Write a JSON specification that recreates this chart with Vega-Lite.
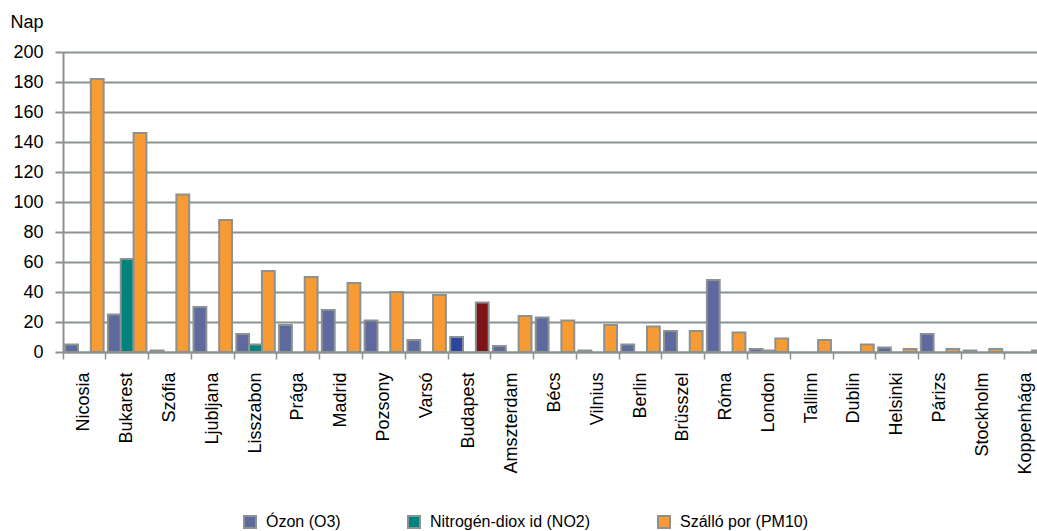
{
  "$schema": "https://vega.github.io/schema/vega-lite/v6.json",
  "autosize": {"type": "none"},
  "padding": {"left": 63, "top": 52, "right": 0, "bottom": 179},
  "width": 974,
  "height": 300,
  "background": "#ffffff",
  "config": {
    "view": {"stroke": null},
    "font": "Liberation Sans",
    "axis": {"labelFont": "Liberation Sans", "titleFont": "Liberation Sans"},
    "legend": {"labelFont": "Liberation Sans"}
  },
  "data": {
    "values": [
      {"city": "Nicosia", "series": "Ózon (O3)", "value": 5},
      {"city": "Nicosia", "series": "Szálló por (PM10)", "value": 182},
      {"city": "Bukarest", "series": "Ózon (O3)", "value": 25},
      {"city": "Bukarest", "series": "Nitrogén-diox id (NO2)", "value": 62},
      {"city": "Bukarest", "series": "Szálló por (PM10)", "value": 146},
      {"city": "Szófia", "series": "Ózon (O3)", "value": 1},
      {"city": "Szófia", "series": "Szálló por (PM10)", "value": 105},
      {"city": "Ljubljana", "series": "Ózon (O3)", "value": 30},
      {"city": "Ljubljana", "series": "Szálló por (PM10)", "value": 88},
      {"city": "Lisszabon", "series": "Ózon (O3)", "value": 12},
      {"city": "Lisszabon", "series": "Nitrogén-diox id (NO2)", "value": 5},
      {"city": "Lisszabon", "series": "Szálló por (PM10)", "value": 54},
      {"city": "Prága", "series": "Ózon (O3)", "value": 18},
      {"city": "Prága", "series": "Szálló por (PM10)", "value": 50},
      {"city": "Madrid", "series": "Ózon (O3)", "value": 28},
      {"city": "Madrid", "series": "Szálló por (PM10)", "value": 46},
      {"city": "Pozsony", "series": "Ózon (O3)", "value": 21},
      {"city": "Pozsony", "series": "Szálló por (PM10)", "value": 40},
      {"city": "Varsó", "series": "Ózon (O3)", "value": 8},
      {"city": "Varsó", "series": "Szálló por (PM10)", "value": 38},
      {"city": "Budapest", "series": "Ózon (O3)", "value": 10},
      {"city": "Budapest", "series": "Szálló por (PM10)", "value": 33},
      {"city": "Amszterdam", "series": "Ózon (O3)", "value": 4},
      {"city": "Amszterdam", "series": "Szálló por (PM10)", "value": 24},
      {"city": "Bécs", "series": "Ózon (O3)", "value": 23},
      {"city": "Bécs", "series": "Szálló por (PM10)", "value": 21},
      {"city": "Vilnius", "series": "Ózon (O3)", "value": 1},
      {"city": "Vilnius", "series": "Szálló por (PM10)", "value": 18},
      {"city": "Berlin", "series": "Ózon (O3)", "value": 5},
      {"city": "Berlin", "series": "Szálló por (PM10)", "value": 17},
      {"city": "Brüsszel", "series": "Ózon (O3)", "value": 14},
      {"city": "Brüsszel", "series": "Szálló por (PM10)", "value": 14},
      {"city": "Róma", "series": "Ózon (O3)", "value": 48},
      {"city": "Róma", "series": "Szálló por (PM10)", "value": 13},
      {"city": "London", "series": "Ózon (O3)", "value": 2},
      {"city": "London", "series": "Nitrogén-diox id (NO2)", "value": 1},
      {"city": "London", "series": "Szálló por (PM10)", "value": 9},
      {"city": "Tallinn", "series": "Szálló por (PM10)", "value": 8},
      {"city": "Dublin", "series": "Szálló por (PM10)", "value": 5},
      {"city": "Helsinki", "series": "Ózon (O3)", "value": 3},
      {"city": "Helsinki", "series": "Szálló por (PM10)", "value": 2},
      {"city": "Párizs", "series": "Ózon (O3)", "value": 12},
      {"city": "Párizs", "series": "Szálló por (PM10)", "value": 2},
      {"city": "Stockholm", "series": "Ózon (O3)", "value": 1},
      {"city": "Stockholm", "series": "Szálló por (PM10)", "value": 2},
      {"city": "Koppenhága", "series": "Szálló por (PM10)", "value": 1}
    ]
  },
  "mark": {"type": "bar", "stroke": "#8c9191", "strokeWidth": 2},
  "encoding": {
    "x": {
      "field": "city",
      "type": "nominal",
      "sort": ["Nicosia", "Bukarest", "Szófia", "Ljubljana", "Lisszabon", "Prága", "Madrid", "Pozsony", "Varsó", "Budapest", "Amszterdam", "Bécs", "Vilnius", "Berlin", "Brüsszel", "Róma", "London", "Tallinn", "Dublin", "Helsinki", "Párizs", "Stockholm", "Koppenhága"],
      "scale": {"range": [0, 984], "paddingInner": 0.1, "paddingOuter": 0.05},
      "axis": {
        "title": null,
        "labelAngle": -90,
        "labelAlign": "right",
        "labelBaseline": "middle",
        "labelFontSize": 18,
        "labelColor": "#000000",
        "labelPadding": 13,
        "tickSize": 7,
        "tickWidth": 1.5,
        "tickColor": "#8c9191",
        "bandPosition": -0.055,
        "domainColor": "#8c9191",
        "domainWidth": 2,
        "grid": false,
        "labelOverlap": false
      }
    },
    "xOffset": {
      "field": "series",
      "type": "nominal",
      "sort": ["Ózon (O3)", "Nitrogén-diox id (NO2)", "Szálló por (PM10)"],
      "scale": {"domain": ["Ózon (O3)", "Nitrogén-diox id (NO2)", "Szálló por (PM10)"], "paddingInner": 0, "paddingOuter": 0}
    },
    "y": {
      "field": "value",
      "type": "quantitative",
      "scale": {"domain": [0, 200], "nice": false},
      "axis": {
        "title": "Nap",
        "titleAngle": 0,
        "titleX": -53,
        "titleY": -25,
        "titleAlign": "left",
        "titleBaseline": "alphabetic",
        "titleFontSize": 18,
        "titleFontWeight": "normal",
        "titleColor": "#000000",
        "values": [0, 20, 40, 60, 80, 100, 120, 140, 160, 180, 200],
        "labelFontSize": 18,
        "labelColor": "#000000",
        "labelPadding": 12,
        "tickSize": 8,
        "tickWidth": 2,
        "tickColor": "#8c9191",
        "domainColor": "#8c9191",
        "domainWidth": 2,
        "gridColor": "#8c9191",
        "gridWidth": 2
      }
    },
    "color": {
      "field": "series",
      "type": "nominal",
      "scale": {
        "domain": ["Ózon (O3)", "Nitrogén-diox id (NO2)", "Szálló por (PM10)"],
        "range": ["#5e6a9e", "#00827f", "#f89b33"]
      },
      "condition": [
        {"test": "datum.city === 'Budapest' && datum.series === 'Ózon (O3)'", "value": "#2c45a0"},
        {"test": "datum.city === 'Budapest' && datum.series === 'Szálló por (PM10)'", "value": "#7c1418"}
      ],
      "legend": {
        "title": null,
        "orient": "none",
        "direction": "horizontal",
        "legendX": 179,
        "legendY": 462,
        "padding": 0,
        "symbolType": "square",
        "symbolSize": 144,
        "symbolStrokeColor": "#8c9191",
        "symbolStrokeWidth": 2,
        "symbolOpacity": 1,
        "labelFontSize": 16,
        "labelLimit": 400,
        "labelColor": "#000000",
        "labelOffset": 8,
        "columnPadding": 63
      }
    }
  }
}
